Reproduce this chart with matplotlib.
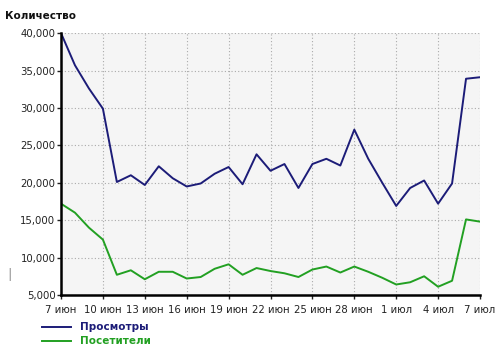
import matplotlib
matplotlib.use("Agg")
import matplotlib.pyplot as plt
import numpy as np

# daily values, 7 июн .. 7 июл
days = list(range(31))
views = [40000, 35700, 32600, 29900, 20100, 21000, 19700, 22200, 20600, 19500,
         19900, 21200, 22100, 19800, 23800, 21600, 22500, 19300, 22500, 23200,
         22300, 27100, 23200, 20000, 16900, 19300, 20300, 17200, 19900, 33900,
         34100]
visitors = [17200, 16000, 14000, 12400, 7700, 8300, 7100, 8100, 8100, 7200,
            7400, 8500, 9100, 7700, 8600, 8200, 7900, 7400, 8400, 8800,
            8000, 8800, 8100, 7300, 6400, 6700, 7500, 6100, 6900, 15100,
            14800]
tick_days = [0, 3, 6, 9, 12, 15, 18, 21, 24, 27, 30]
tick_labels = ["7 июн", "10 июн", "13 июн", "16 июн", "19 июн", "22 июн",
               "25 июн", "28 июн", "1 июл", "4 июл", "7 июл"]
y_ticks = [5000, 10000, 15000, 20000, 25000, 30000, 35000, 40000]

blue = "#1c1c78"
green = "#22a022"

fig = plt.figure(figsize=(5, 3.52), dpi=100)
ax = fig.add_axes([0.122, 0.162, 0.838, 0.744])
ax.set_facecolor("#f5f5f5")

ax.plot(days, views, color=blue, lw=1.4)
ax.plot(days, visitors, color=green, lw=1.4)

ax.set_xlim(0, 30)
ax.set_ylim(5000, 40000)
ax.set_xticks(tick_days)
ax.set_xticklabels(tick_labels)
ax.set_yticks(y_ticks)
ax.set_yticklabels([f"{v:,}" for v in y_ticks])
ax.tick_params(labelsize=7.3, colors="#222222", length=3, width=1)
ax.tick_params(axis="x", pad=4)
ax.tick_params(axis="y", pad=1)

ax.grid(True, color="#aaaaaa", linestyle=(0, (1, 2)), lw=0.8)
for s in ["top", "right"]:
    ax.spines[s].set_visible(False)
for s in ["left", "bottom"]:
    ax.spines[s].set_linewidth(1.8)
    ax.spines[s].set_color("black")

fig.text(0.01, 0.955, "Количество", fontsize=7.5, fontweight="bold",
         color="#111111", va="center")

# legend
fig.add_artist(plt.Line2D([0.084, 0.142], [0.071, 0.071], color=blue, lw=1.4))
fig.add_artist(plt.Line2D([0.084, 0.142], [0.031, 0.031], color=green, lw=1.4))
fig.text(0.16, 0.071, "Просмотры", fontsize=7.5, fontweight="bold",
         color=blue, va="center")
fig.text(0.16, 0.031, "Посетители", fontsize=7.5, fontweight="bold",
         color=green, va="center")
fig.text(0.014, 0.22, "|", fontsize=9, color="#aaaaaa", va="center",
         fontweight="bold")

fig.savefig("out.png", dpi=100)
